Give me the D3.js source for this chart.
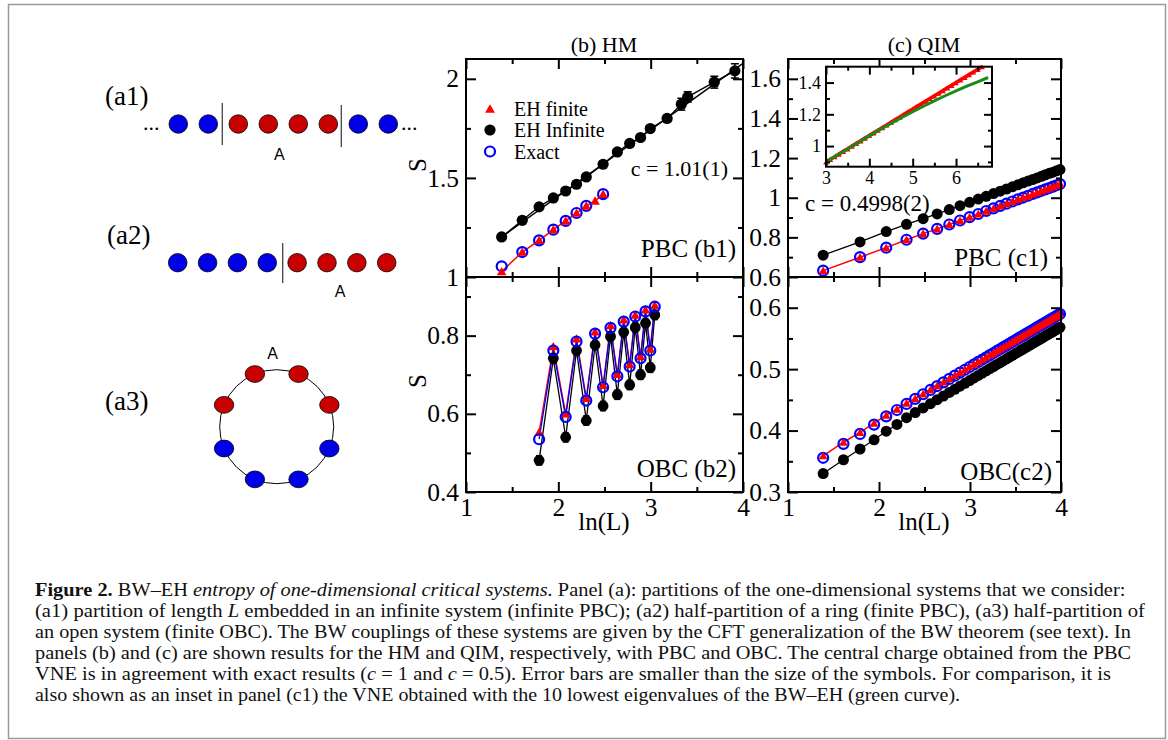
<!DOCTYPE html>
<html><head><meta charset="utf-8">
<script src="https://cdn.jsdelivr.net/npm/d3@7"></script>
<style>
body{margin:0;background:#fff}
svg text{font-family:"Liberation Serif","Times New Roman",Times,serif}
</style>
</head><body>
<svg id="fig" width="1168" height="740"></svg>
<script>
// ================= DATA =================
// Panel (b1) HM, PBC
const b1LInf  = [4,5,6,7,8,9,10,12,14,16,18,20,24,28,30,40,50];
const b1SInf  = [1.202,1.286,1.354,1.399,1.434,1.468,1.505,1.569,1.631,1.674,1.704,1.749,1.800,1.872,1.909,1.983,2.040];
const b1ErrInf= [0.004,0.004,0.005,0.005,0.006,0.006,0.007,0.008,0.009,0.010,0.011,0.012,0.016,0.030,0.026,0.030,0.036];
const b1FitL  = [4,54.6];
const b1FitS  = [1.202,2.078];
const b1LFin  = [4,5,6,7,8,9,10,11,12];
const b1SFin  = [1.028,1.126,1.185,1.239,1.283,1.323,1.359,1.384,1.418];
const b1LEx   = [4,5,6,7,8,9,10,12];
const b1SEx   = [1.054,1.126,1.185,1.239,1.283,1.323,1.359,1.418];
// Panel (b2) HM, OBC
const b2L     = [6,7,8,9,10,11,12,13,14,15,16,17,18,19,20,21];
const b2SInf  = [0.481,0.742,0.540,0.762,0.583,0.776,0.620,0.798,0.649,0.809,0.674,0.821,0.700,0.832,0.718,0.853];
const b2ErrInf= [0.012,0.012,0.012,0.012,0.012,0.012,0.012,0.012,0.012,0.012,0.012,0.012,0.012,0.012,0.012,0.012];
const b2SEx   = [0.535,0.762,0.592,0.785,0.634,0.805,0.668,0.820,0.696,0.836,0.721,0.849,0.742,0.862,0.762,0.874];
const b2SFin  = [0.553,0.772,0.600,0.792,0.640,0.810,0.673,0.826,0.701,0.841,0.726,0.853,0.747,0.866,0.766,0.878];
// Panel (c1) QIM, PBC
const c1L     = [4,6,8,10,12,14,16,18,20,22,24,26,28,30,32,34,36,38,40,42,44,46,48,50,52,54];
const c1SInf  = [0.710,0.777,0.829,0.866,0.894,0.918,0.940,0.960,0.977,0.993,1.007,1.021,1.033,1.044,1.055,1.065,1.075,1.084,1.092,1.100,1.108,1.116,1.123,1.129,1.136,1.142];
const c1SEx   = [0.632,0.700,0.748,0.788,0.819,0.843,0.865,0.885,0.902,0.918,0.933,0.946,0.959,0.970,0.981,0.992,1.001,1.010,1.019,1.027,1.035,1.042,1.049,1.056,1.063,1.069];
const c1SFin  = [0.632,0.700,0.748,0.788,0.819,0.843,0.865,0.885,0.902,0.918,0.933,0.946,0.959,0.970,0.981,0.992,1.001,1.010,1.019,1.027,1.035,1.042,1.049,1.056,1.063,1.069];
// Panel (c2) QIM, OBC
const c2L     = [4,5,6,7,8,9,10,11,12,13,14,15,16,17,18,19,20,21,22,23,24,25,26,27,28,29,30,31,32,33,34,35,36,37,38,39,40,41,42,43,44,45,46,47,48,49,50,51,52,53,54];
const c2SInf  = [0.330,0.3525,0.370,0.385,0.399,0.410,0.421,0.4293,0.4369,0.4438,0.4503,0.4563,0.4620,0.4672,0.4722,0.4769,0.4814,0.4857,0.4897,0.4936,0.4973,0.5009,0.5043,0.5076,0.5107,0.5138,0.5168,0.5196,0.5224,0.5251,0.5277,0.5302,0.5327,0.5350,0.5374,0.5396,0.5419,0.5440,0.5461,0.5482,0.5502,0.5521,0.5540,0.5559,0.5578,0.5595,0.5613,0.5630,0.5647,0.5664,0.5680];
const c2SEx   = [0.3557,0.3784,0.3946,0.4097,0.4232,0.4335,0.4433,0.4516,0.4591,0.4661,0.4725,0.4785,0.4841,0.4894,0.4944,0.4990,0.5035,0.5077,0.5118,0.5156,0.5194,0.5229,0.5263,0.5296,0.5327,0.5358,0.5387,0.5416,0.5443,0.5470,0.5496,0.5521,0.5546,0.5570,0.5593,0.5615,0.5637,0.5659,0.5680,0.5700,0.5720,0.5740,0.5759,0.5777,0.5796,0.5814,0.5831,0.5848,0.5865,0.5882,0.5898];
const c2SFin  = [0.3590,0.3810,0.3970,0.4120,0.4250,0.4350,0.4445,0.4525,0.4598,0.4667,0.4730,0.4790,0.4845,0.4898,0.4948,0.4994,0.5038,0.5080,0.5121,0.5159,0.5196,0.5231,0.5265,0.5298,0.5329,0.5360,0.5389,0.5418,0.5445,0.5472,0.5498,0.5523,0.5548,0.5572,0.5595,0.5617,0.5639,0.5661,0.5682,0.5702,0.5722,0.5742,0.5761,0.5779,0.5798,0.5816,0.5833,0.5850,0.5867,0.5884,0.5900];
// Inset of (c1): ln(L) vs S
const inLnRed = [3.0,3.1,3.2,3.3,3.4,3.5,3.6,3.7,3.8,3.9,4.0,4.1,4.2,4.3,4.4,4.5,4.6,4.7,4.8,4.9,5.0,5.1,5.2,5.3,5.4,5.5,5.6,5.7,5.8,5.9,6.0,6.1,6.2,6.3,6.4,6.5,6.6];
const inSRed  = [0.900,0.917,0.933,0.950,0.967,0.983,1.000,1.017,1.033,1.050,1.067,1.083,1.100,1.117,1.133,1.150,1.167,1.183,1.200,1.217,1.233,1.250,1.267,1.283,1.300,1.317,1.333,1.350,1.367,1.383,1.400,1.417,1.433,1.450,1.467,1.483,1.500];
const inLnGreen = [3.0,3.25,3.5,3.75,4.0,4.25,4.5,4.75,5.0,5.25,5.5,5.75,6.0,6.25,6.5,6.74];
const inSGreen  = [0.900,0.941,0.982,1.023,1.064,1.104,1.142,1.180,1.216,1.251,1.285,1.317,1.347,1.377,1.405,1.432];
// Tick values / labels
const lnTicksMajor = [1,2,3,4];
const lnTicksMinor = [1.5,2.5,3.5];
const b1YMajor = [1,1.5,2],           b1YMinor = [1.25,1.75];
const b2YMajor = [0.4,0.6,0.8],       b2YMinor = [0.5,0.7,0.9];
const c1YMajor = [0.6,0.8,1,1.2,1.4,1.6], c1YMinor = [0.7,0.9,1.1,1.3,1.5];
const c2YMajor = [0.3,0.4,0.5,0.6],   c2YMinor = [0.35,0.45,0.55];
const inXMajor = [3,4,5,6],           inXMinor = [3.5,4.5,5.5,6.5];
const inYMajor = [1,1.2,1.4],         inYMinor = [0.9,1.1,1.3];
// Diagram node colours
const a1Colors = ['b','b','r','r','r','r','b','b'];
const a2Colors = ['b','b','b','b','r','r','r','r'];
const a3Colors = ['r','r','r','b','b','b','b','r'];

// ================= DRAW =================
const svg = d3.select('#fig');
const SERIF = '"Liberation Serif","Times New Roman",Times,serif';
const RED='#ff0000', BLUE='#0000ff', BLACK='#000';
const NODE_RED='#c80000', NODE_BLUE='#0000e8';
const TICKFS = 25.5;

svg.append('rect').attr('x',8.5).attr('y',4.5).attr('width',1157).attr('height',734)
  .attr('fill','none').attr('stroke','#9a9a9a').attr('stroke-width',1.5);

const geo = {bx0:466,bx1:743,cx0:788,cx1:1061,yTop:59,yMid:277,yBot:492};

function lnScale(x0,x1){ return d3.scaleLog().base(Math.E).domain([Math.E,Math.exp(4)]).range([x0,x1]); }

function styleAxis(sel,fs){
  sel.attr('font-family',SERIF).attr('font-size',fs);
  sel.select('.domain').remove();
  sel.selectAll('.tick line').attr('stroke','#000').attr('stroke-width',2);
  sel.selectAll('.tick text').attr('fill','#000');
}

function frameAxes(g, x, y, o){
  const [xa,xb]=x.range(), [ya,yb]=y.range();
  const maj=o.maj||10, mn=o.min||5, fs=o.fs||TICKFS;
  const fx = o.xfmt||(()=>''), fy = o.yfmt||(()=>'');
  g.append('g').attr('transform',`translate(0,${ya})`)
    .call(d3.axisBottom(x).tickValues(o.xMaj).tickSize(-maj).tickPadding(o.xpad||6).tickFormat(o.showX?fx:()=>''))
    .call(s=>styleAxis(s,fs));
  g.append('g').attr('transform',`translate(0,${ya})`)
    .call(d3.axisBottom(x).tickValues(o.xMin).tickSize(-mn).tickFormat(()=>''))
    .call(s=>styleAxis(s,fs));
  g.append('g').attr('transform',`translate(0,${yb})`)
    .call(d3.axisTop(x).tickValues(o.xMaj).tickSize(-maj).tickFormat(()=>''))
    .call(s=>styleAxis(s,fs));
  g.append('g').attr('transform',`translate(0,${yb})`)
    .call(d3.axisTop(x).tickValues(o.xMin).tickSize(-mn).tickFormat(()=>''))
    .call(s=>styleAxis(s,fs));
  g.append('g').attr('transform',`translate(${xa},0)`)
    .call(d3.axisLeft(y).tickValues(o.yMaj).tickSize(-maj).tickPadding(o.ypad||7).tickFormat(fy))
    .call(s=>styleAxis(s,fs));
  g.append('g').attr('transform',`translate(${xa},0)`)
    .call(d3.axisLeft(y).tickValues(o.yMin).tickSize(-mn).tickFormat(()=>''))
    .call(s=>styleAxis(s,fs));
  g.append('g').attr('transform',`translate(${xb},0)`)
    .call(d3.axisRight(y).tickValues(o.yMaj).tickSize(-maj).tickFormat(()=>''))
    .call(s=>styleAxis(s,fs));
  g.append('g').attr('transform',`translate(${xb},0)`)
    .call(d3.axisRight(y).tickValues(o.yMin).tickSize(-mn).tickFormat(()=>''))
    .call(s=>styleAxis(s,fs));
  g.append('rect').attr('x',xa).attr('y',yb).attr('width',xb-xa).attr('height',ya-yb)
    .attr('fill','none').attr('stroke','#000').attr('stroke-width',2);
}

function line(g,x,y,xs,ys,color,w){
  const pts = xs.map((v,i)=>[x(v),y(ys[i])]);
  g.append('path').attr('d',d3.line()(pts)).attr('fill','none').attr('stroke',color).attr('stroke-width',w||1.3);
}
function dots(g,x,y,xs,ys,r,fill){
  g.selectAll(null).data(xs.map((v,i)=>[v,ys[i]])).join('circle')
    .attr('cx',d=>x(d[0])).attr('cy',d=>y(d[1])).attr('r',r).attr('fill',fill);
}
function rings(g,x,y,xs,ys,r,color,w){
  g.selectAll(null).data(xs.map((v,i)=>[v,ys[i]])).join('circle')
    .attr('cx',d=>x(d[0])).attr('cy',d=>y(d[1])).attr('r',r).attr('fill','none')
    .attr('stroke',color).attr('stroke-width',w||2);
}
function tris(g,x,y,xs,ys,size,color){
  const sym=d3.symbol().type(d3.symbolTriangle).size(size);
  g.selectAll(null).data(xs.map((v,i)=>[v,ys[i]])).join('path')
    .attr('d',sym).attr('transform',d=>`translate(${x(d[0])},${y(d[1])+1})`).attr('fill',color);
}
function errs(g,x,y,xs,ys,es,color,cap){
  const d=xs.map((v,i)=>[v,ys[i],es[i]]);
  const gg=g.append('g').attr('stroke',color).attr('stroke-width',1.5);
  d.forEach(([v,s,e])=>{
    const px=x(v), t=y(s+e), b=y(s-e);
    gg.append('line').attr('x1',px).attr('x2',px).attr('y1',t).attr('y2',b);
    gg.append('line').attr('x1',px-cap).attr('x2',px+cap).attr('y1',t).attr('y2',t);
    gg.append('line').attr('x1',px-cap).attr('x2',px+cap).attr('y1',b).attr('y2',b);
  });
}
function txt(x,y,s,fs,anchor,extra){
  const t=svg.append('text').attr('x',x).attr('y',y).attr('font-size',fs).attr('text-anchor',anchor||'start').attr('fill','#000').text(s);
  if(extra) extra(t);
  return t;
}

const lnFmt = d => String(Math.round(Math.log(d)));
const expT = a => a.map(v=>Math.exp(v));

// ---------- Panel b1 ----------
const xb = lnScale(geo.bx0,geo.bx1);
const yb1 = d3.scaleLinear().domain([1,2.1]).range([geo.yMid,geo.yTop]);
const gb1 = svg.append('g');
line(gb1,xb,yb1,b1FitL,b1FitS,BLACK,1.5);
line(gb1,xb,yb1,b1LInf,b1SInf,BLACK,1.3);
line(gb1,xb,yb1,b1LFin,b1SFin,RED,1.5);
errs(gb1,xb,yb1,b1LInf,b1SInf,b1ErrInf,BLACK,4);
dots(gb1,xb,yb1,b1LInf,b1SInf,5.6,BLACK);
rings(gb1,xb,yb1,b1LEx,b1SEx,5,BLUE,2.2);
tris(gb1,xb,yb1,b1LFin,b1SFin,40,RED);
frameAxes(gb1,xb,yb1,{xMaj:expT(lnTicksMajor),xMin:expT(lnTicksMinor),yMaj:b1YMajor,yMin:b1YMinor,showX:false,yfmt:d=>String(d)});

// ---------- Panel b2 ----------
const yb2 = d3.scaleLinear().domain([0.4,0.95]).range([geo.yBot,geo.yMid]);
const gb2 = svg.append('g');
line(gb2,xb,yb2,b2L,b2SInf,BLACK,1.3);
line(gb2,xb,yb2,b2L,b2SFin,RED,1.4);
line(gb2,xb,yb2,b2L,b2SEx,BLUE,1.3);
errs(gb2,xb,yb2,b2L,b2SInf,b2ErrInf,BLACK,3);
dots(gb2,xb,yb2,b2L,b2SInf,5.4,BLACK);
tris(gb2,xb,yb2,b2L,b2SFin,40,RED);
rings(gb2,xb,yb2,b2L,b2SEx,5,BLUE,2.2);
frameAxes(gb2,xb,yb2,{xMaj:expT(lnTicksMajor),xMin:expT(lnTicksMinor),yMaj:b2YMajor,yMin:b2YMinor,showX:true,xfmt:lnFmt,yfmt:d=>String(d)});

// ---------- Panel c1 ----------
const xc = lnScale(geo.cx0,geo.cx1);
const yc1 = d3.scaleLinear().domain([0.6,1.7]).range([geo.yMid,geo.yTop]);
const gc1 = svg.append('g');
line(gc1,xc,yc1,c1L,c1SInf,BLACK,1.3);
line(gc1,xc,yc1,c1L,c1SFin,RED,1.5);
dots(gc1,xc,yc1,c1L,c1SInf,5.5,BLACK);
rings(gc1,xc,yc1,c1L,c1SEx,5,BLUE,2.2);
tris(gc1,xc,yc1,c1L,c1SFin,36,RED);
frameAxes(gc1,xc,yc1,{xMaj:expT(lnTicksMajor),xMin:expT(lnTicksMinor),yMaj:c1YMajor,yMin:c1YMinor,showX:false,yfmt:d=>String(d)});

// ---------- Panel c2 ----------
const yc2 = d3.scaleLinear().domain([0.3,0.65]).range([geo.yBot,geo.yMid]);
const gc2 = svg.append('g');
line(gc2,xc,yc2,c2L,c2SInf,BLACK,1.3);
line(gc2,xc,yc2,c2L,c2SFin,RED,1.5);
dots(gc2,xc,yc2,c2L,c2SInf,5.5,BLACK);
rings(gc2,xc,yc2,c2L,c2SEx,5,BLUE,2.2);
tris(gc2,xc,yc2,c2L,c2SFin,34,RED);
frameAxes(gc2,xc,yc2,{xMaj:expT(lnTicksMajor),xMin:expT(lnTicksMinor),yMaj:c2YMajor,yMin:c2YMinor,showX:true,xfmt:lnFmt,yfmt:d=>String(d)});

// ---------- Inset ----------
const xi = d3.scaleLinear().domain([3,6.83]).range([826,992]);
const yi = d3.scaleLinear().domain([0.87,1.5]).range([166.7,66.7]);
const gi = svg.append('g');
gi.append('rect').attr('x',826).attr('y',66.7).attr('width',166).attr('height',100).attr('fill','#fff');
line(gi,xi,yi,inLnRed,inSRed,RED,3.6);
tris(gi,xi,yi,inLnRed,inSRed,14,RED);
line(gi,xi,yi,inLnGreen,inSGreen,'#178c17',3);
frameAxes(gi,xi,yi,{xMaj:inXMajor,xMin:inXMinor,yMaj:inYMajor,yMin:inYMinor,showX:true,xfmt:d=>String(d),yfmt:d=>String(d),maj:8,min:4,fs:18,xpad:5,ypad:5});

// ---------- Texts in panels ----------
txt(604,52,'(b) HM',22,'middle');
txt(924,52,'(c) QIM',22,'middle');
txt(604,530,'ln(L)',25,'middle');
txt(924,530,'ln(L)',25,'middle');
txt(0,0,'S',25,'middle',t=>t.attr('x',null).attr('y',null).attr('transform','translate(426,165) rotate(-90)'));
txt(0,0,'S',25,'middle',t=>t.attr('x',null).attr('y',null).attr('transform','translate(426,381) rotate(-90)'));
txt(728,176,'c = 1.01(1)',22,'end');
txt(736,257,'PBC (b1)',25,'end');
txt(736,477,'OBC (b2)',25,'end');
txt(805,211,'c = 0.4998(2)',23,'start');
txt(1048,266,'PBC (c1)',25,'end');
txt(1052,480,'OBC(c2)',25,'end');

// legend (b1)
const lg = svg.append('g');
lg.append('path').attr('d',d3.symbol().type(d3.symbolTriangle).size(42)()).attr('transform','translate(490,110)').attr('fill',RED);
lg.append('circle').attr('cx',490).attr('cy',130).attr('r',5.6).attr('fill',BLACK);
lg.append('circle').attr('cx',490).attr('cy',151.5).attr('r',5).attr('fill','none').attr('stroke',BLUE).attr('stroke-width',2.2);
txt(514,116,'EH finite',20,'start');
txt(514,137,'EH Infinite',20,'start');
txt(514,158.5,'Exact',20,'start');

// ---------- Diagrams (a) ----------
const col = c => c==='r'?NODE_RED:NODE_BLUE;
txt(105,105,'(a1)',27,'start');
txt(107,244,'(a2)',27,'start');
txt(105,410,'(a3)',27,'start');
const xa1 = d3.scaleLinear().domain([0,7]).range([178.3,388.3]);
svg.selectAll(null).data(a1Colors).join('ellipse').attr('cx',(d,i)=>xa1(i)).attr('cy',124)
  .attr('rx',9.3).attr('ry',9.2).attr('fill',col).attr('stroke','#000').attr('stroke-width',0.8);
txt(143,130,'...',22,'start');
txt(401,130,'...',22,'start');
svg.append('line').attr('x1',222.3).attr('x2',222.3).attr('y1',103).attr('y2',145).attr('stroke','#444').attr('stroke-width',1.3);
svg.append('line').attr('x1',341.3).attr('x2',341.3).attr('y1',105).attr('y2',147).attr('stroke','#444').attr('stroke-width',1.3);
txt(279.3,160,'A',16,'middle',t=>t.style('font-family','"Liberation Sans",Arial,sans-serif'));

const xa2 = d3.scaleLinear().domain([0,7]).range([177.7,386.7]);
svg.selectAll(null).data(a2Colors).join('ellipse').attr('cx',(d,i)=>xa2(i)).attr('cy',262.7)
  .attr('rx',9.3).attr('ry',9.2).attr('fill',col).attr('stroke','#000').attr('stroke-width',0.8);
svg.append('line').attr('x1',282.7).attr('x2',282.7).attr('y1',243).attr('y2',283).attr('stroke','#444').attr('stroke-width',1.3);
txt(340,297,'A',16,'middle',t=>t.style('font-family','"Liberation Sans",Arial,sans-serif'));

const rc={x:276.7,y:426.7,r:57};
svg.append('circle').attr('cx',rc.x).attr('cy',rc.y).attr('r',rc.r).attr('fill','none').attr('stroke','#000').attr('stroke-width',1);
const ang = d3.scaleLinear().domain([0,8]).range([-112.5,247.5]);
svg.selectAll(null).data(a3Colors).join('ellipse')
  .attr('cx',(d,i)=>rc.x+rc.r*Math.cos(ang(i)*Math.PI/180))
  .attr('cy',(d,i)=>rc.y+rc.r*Math.sin(ang(i)*Math.PI/180))
  .attr('rx',9.7).attr('ry',8.4).attr('fill',col).attr('stroke','#000').attr('stroke-width',0.8);
txt(272.7,359,'A',16,'middle',t=>t.style('font-family','"Liberation Sans",Arial,sans-serif'));

// ---------- Caption ----------
const capLines = [
  {y:596, w:1091, segs:[['Figure 2.','b'],[' BW–EH ',''],['entropy of one-dimensional critical systems.','i'],[' Panel (a): partitions of the one-dimensional systems that we consider:','']]},
  {y:617, w:1111, segs:[['(a1) partition of length ',''],['L','i'],[' embedded in an infinite system (infinite PBC); (a2) half-partition of a ring (finite PBC), (a3) half-partition of','']]},
  {y:638, w:1097, segs:[['an open system (finite OBC). The BW couplings of these systems are given by the CFT generalization of the BW theorem (see text). In','']]},
  {y:659, w:1097, segs:[['panels (b) and (c) are shown results for the HM and QIM, respectively, with PBC and OBC. The central charge obtained from the PBC','']]},
  {y:680, w:1077, segs:[['VNE is in agreement with exact results (',''],['c','i'],[' = 1 and ',''],['c','i'],[' = 0.5). Error bars are smaller than the size of the symbols. For comparison, it is','']]},
  {y:701, w:926,  segs:[['also shown as an inset in panel (c1) the VNE obtained with the 10 lowest eigenvalues of the BW–EH (green curve).','']]}
];
capLines.forEach(L=>{
  const t = svg.append('text').attr('x',0).attr('y',0).attr('font-size',18).attr('fill','#111');
  L.segs.forEach(([s,st])=>{
    const ts=t.append('tspan').text(s);
    if(st==='b') ts.attr('font-weight','bold');
    if(st==='i') ts.attr('font-style','italic');
  });
  const w = t.node().getComputedTextLength();
  t.attr('transform',`translate(35,${L.y}) scale(${L.w/w},1)`);
});
</script>
</body></html>
